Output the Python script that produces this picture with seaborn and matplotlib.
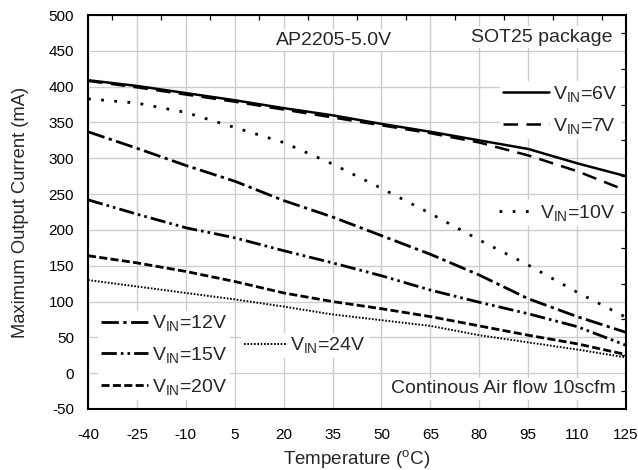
import numpy as np
import pandas as pd
import matplotlib
matplotlib.use("Agg")
import matplotlib.pyplot as plt
import seaborn as sns

temps = [-40, -25, -10, 5, 20, 35, 50, 65, 80, 95, 110, 125]
v6 = [409, 401, 391, 381, 370, 360, 348, 337, 325, 313, 293, 275]
v7 = [408, 399, 389, 379, 368, 357, 346, 335, 322, 304, 282, 255]
v10 = [383, 377, 364, 343, 322, 292, 258, 223, 186, 151, 113, 78]
v12 = [337, 314, 290, 268, 241, 218, 192, 166, 137, 104, 79, 57]
v15 = [242, 222, 203, 189, 171, 154, 136, 116, 99, 83, 65, 39]
v20 = [164, 154, 142, 128, 112, 100, 90, 79, 66, 53, 41, 26]
v24 = [130, 121, 112, 103, 93, 82, 74, 66, 53, 43, 33, 22]
series_names = ["6V", "7V", "10V", "12V", "15V", "20V", "24V"]
series_vals = [v6, v7, v10, v12, v15, v20, v24]

sns.set_theme(style="white")
plt.rcParams['font.family'] = ['Liberation Sans', 'DejaVu Sans']
plt.rcParams['mathtext.fontset'] = 'custom'
plt.rcParams['mathtext.rm'] = 'Liberation Sans'
plt.rcParams['mathtext.it'] = 'Liberation Sans'
plt.rcParams['lines.scale_dashes'] = False
plt.rcParams['axes.unicode_minus'] = False

styles = {
    "6V": dict(ls="-", lw=1.8),
    "7V": dict(ls=(0, (10.5, 6)), lw=1.8),
    "10V": dict(ls=(0, (2.0, 7.5)), lw=2.0),
    "12V": dict(ls=(0, (12.5, 3.2, 2.4, 3.2)), lw=2.0),
    "15V": dict(ls=(0, (11, 2.9, 1.9, 2.9, 1.9, 2.9)), lw=2.0),
    "20V": dict(ls=(0, (5.8, 2.4)), lw=2.0),
    "24V": dict(ls=(0, (1.2, 1.2)), lw=1.4),
}

fig = plt.figure(figsize=(6.38, 4.70), dpi=100)
ax = fig.add_axes([88 / 638, 1 - 409 / 470, 538 / 638, 394 / 470])

handles = {}
for name, vals in zip(series_names, series_vals):
    df = pd.DataFrame({"T": temps, "I": vals})
    sns.lineplot(data=df, x="T", y="I", ax=ax, color="black",
                 linestyle=styles[name]["ls"], linewidth=styles[name]["lw"],
                 label="V$_{\\mathrm{IN}}$=" + name, legend=False, zorder=3)
    handles[name] = ax.get_lines()[-1]

ax.set_xlim(-40, 125)
ax.set_ylim(-50, 500)
ax.set_xticks(np.arange(-40, 126, 15))
ax.set_yticks(np.arange(-50, 501, 50))
ax.set_xticks(np.arange(-40, 126, 7.5), minor=True)
ax.set_yticks(np.arange(-50, 501, 25), minor=True)
ax.grid(True, which="major", color="#cccccc", lw=1.0, zorder=0)
ax.tick_params(which="both", direction="in", top=True, right=True,
               labelsize=11, colors="black")
ax.tick_params(axis="x", which="major", length=0, pad=14)
ax.tick_params(axis="y", which="major", length=0, pad=10)
ax.tick_params(which="minor", length=3.5, width=0.9)
for s in ax.spines.values():
    s.set_color("black")
    s.set_linewidth(1.5)
ax.set_xlabel("Temperature ($^{\\mathrm{o}}$C)", fontsize=13.5, labelpad=4)
ax.set_ylabel("Maximum Output Current (mA)", fontsize=13.2, labelpad=14)

box = dict(facecolor="white", edgecolor="none", pad=2)
ax.text(35.6, 465, "AP2205-5.0V", ha="center", va="center", fontsize=14, bbox=box, zorder=4)
ax.text(121, 469, "SOT25 package", ha="right", va="center", fontsize=14, bbox=box, zorder=4)
ax.text(122, -22, "Continous Air flow 10scfm", ha="right", va="center", fontsize=14, bbox=box, zorder=4)

def add_leg(names, anchor, loc, hl):
    leg = ax.legend([handles[n] for n in names], [handles[n].get_label() for n in names],
                    loc=loc, bbox_to_anchor=anchor, frameon=True, fontsize=14,
                    handlelength=hl, handletextpad=0.2, labelspacing=0.6,
                    borderpad=0.15, borderaxespad=0, fancybox=False)
    leg.get_frame().set_facecolor("white")
    leg.get_frame().set_edgecolor("none")
    leg.get_frame().set_alpha(1)
    leg.set_zorder(5)
    ax.add_artist(leg)
    return leg

add_leg(["6V", "7V"], (0.99, 0.832), "upper right", 2.4)
add_leg(["10V"], (0.985, 0.53), "upper right", 1.9)
add_leg(["12V", "15V", "20V"], (0.018, 0.25), "upper left", 2.45)
add_leg(["24V"], (0.284, 0.194), "upper left", 2.2)

fig.savefig("out.png", dpi=100)
